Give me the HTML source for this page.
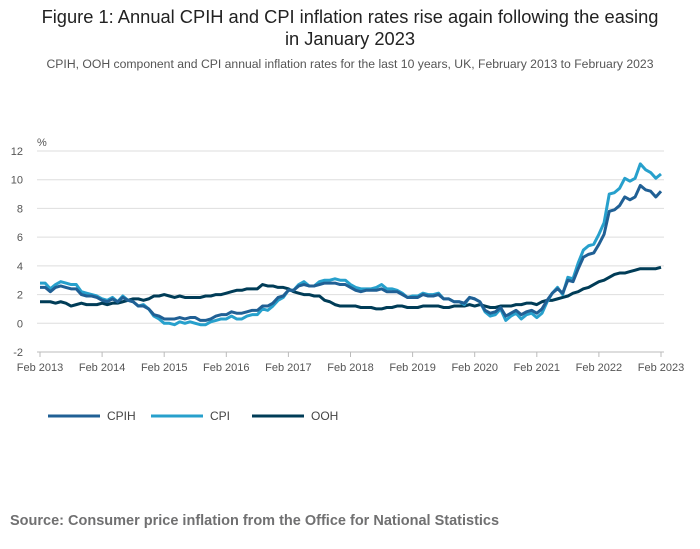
<!DOCTYPE html>
<html><head><meta charset="utf-8">
<style>
body{margin:0;background:#fff;font-family:"Liberation Sans",sans-serif;}
#wrap{position:relative;width:700px;height:549px;overflow:hidden;}
.title{position:absolute;left:0;width:700px;top:6px;text-align:center;font-size:18.3px;color:#222;line-height:22px;}
.sub{position:absolute;left:0;width:700px;top:57px;text-align:center;font-size:12.2px;color:#555;}
.src{position:absolute;left:10px;top:513px;font-size:14.5px;font-weight:bold;color:#707071;}
svg text{font-family:"Liberation Sans",sans-serif;}
</style></head><body>
<div id="wrap">
<div class="title">Figure 1: Annual CPIH and CPI inflation rates rise again following the easing<br>in January 2023</div>
<div class="sub">CPIH, OOH component and CPI annual inflation rates for the last 10 years, UK, February 2013 to February 2023</div>
<svg id="chart" width="700" height="549" style="position:absolute;left:0;top:0"></svg>
<div class="src">Source: Consumer price inflation from the Office for National Statistics</div>
</div>
<script>
const yTicks=[-2,0,2,4,6,8,10,12];
const xTickLabels=["Feb 2013","Feb 2014","Feb 2015","Feb 2016","Feb 2017","Feb 2018","Feb 2019","Feb 2020","Feb 2021","Feb 2022","Feb 2023"];
const seriesNames=["CPIH","CPI","OOH"];
const cpih=[2.5,2.5,2.2,2.5,2.6,2.5,2.4,2.4,2.0,1.9,1.9,
1.8,1.6,1.5,1.7,1.5,1.8,1.6,1.5,1.2,1.2,1.0,0.6,
0.5,0.3,0.3,0.3,0.4,0.3,0.4,0.4,0.2,0.2,0.3,0.5,
0.6,0.6,0.8,0.7,0.7,0.8,0.9,0.9,1.2,1.2,1.4,1.8,
1.9,2.3,2.3,2.6,2.7,2.6,2.6,2.7,2.8,2.8,2.8,2.7,
2.7,2.5,2.3,2.2,2.3,2.3,2.3,2.4,2.2,2.2,2.2,2.0,
1.8,1.8,1.8,2.0,1.9,1.9,2.0,1.7,1.7,1.5,1.5,1.4,
1.8,1.7,1.5,0.9,0.7,0.8,1.1,0.5,0.7,0.9,0.6,0.8,
0.9,0.7,1.0,1.6,2.1,2.4,2.1,3.0,2.9,3.8,4.6,4.8,
4.9,5.5,6.2,7.8,7.9,8.2,8.8,8.6,8.8,9.6,9.3,9.2,
8.8,9.2];
const cpi=[2.8,2.8,2.4,2.7,2.9,2.8,2.7,2.7,2.2,2.1,2.0,
1.9,1.7,1.6,1.8,1.5,1.9,1.6,1.5,1.2,1.3,1.0,0.5,
0.3,0.0,0.0,-0.1,0.1,0.0,0.1,0.0,-0.1,-0.1,0.1,0.2,
0.3,0.3,0.5,0.3,0.3,0.5,0.6,0.6,1.0,0.9,1.2,1.6,
1.8,2.3,2.3,2.7,2.9,2.6,2.6,2.9,3.0,3.0,3.1,3.0,
3.0,2.7,2.5,2.4,2.4,2.4,2.5,2.7,2.4,2.4,2.3,2.1,
1.8,1.9,1.9,2.1,2.0,2.0,2.1,1.7,1.7,1.5,1.5,1.3,
1.8,1.7,1.5,0.8,0.5,0.6,1.0,0.2,0.5,0.7,0.3,0.6,
0.7,0.4,0.7,1.5,2.1,2.5,2.0,3.2,3.1,4.2,5.1,5.4,
5.5,6.2,7.0,9.0,9.1,9.4,10.1,9.9,10.1,11.1,10.7,10.5,
10.1,10.4];
const ooh=[1.5,1.5,1.5,1.4,1.5,1.4,1.2,1.3,1.4,1.3,1.3,
1.3,1.4,1.3,1.4,1.4,1.5,1.6,1.7,1.7,1.6,1.7,1.9,
1.9,2.0,1.9,1.8,1.9,1.8,1.8,1.8,1.8,1.9,1.9,2.0,
2.0,2.1,2.2,2.3,2.3,2.4,2.4,2.4,2.7,2.6,2.6,2.5,
2.5,2.4,2.2,2.1,2.0,2.0,1.9,1.9,1.6,1.5,1.3,1.2,
1.2,1.2,1.2,1.1,1.1,1.1,1.0,1.0,1.1,1.1,1.2,1.2,
1.1,1.1,1.1,1.2,1.2,1.2,1.2,1.1,1.1,1.2,1.2,1.2,
1.3,1.2,1.3,1.2,1.1,1.1,1.2,1.2,1.2,1.3,1.3,1.4,
1.4,1.3,1.5,1.6,1.6,1.7,1.8,1.9,2.1,2.2,2.4,2.5,
2.7,2.9,3.0,3.2,3.4,3.5,3.5,3.6,3.7,3.8,3.8,3.8,
3.8,3.9];
const colors=["#206095","#27a0cc","#003c57"];
const NS="http://www.w3.org/2000/svg";
const svg=document.getElementById('chart');
const x0=40,x1=661,yTop=151,yBot=352,vMin=-2,vMax=12;
function xs(i){return x0+(x1-x0)*i/120;}
function ys(v){return yBot-(v-vMin)/(vMax-vMin)*(yBot-yTop);}
function mk(tag,attrs){const e=document.createElementNS(NS,tag);for(const k in attrs)e.setAttribute(k,attrs[k]);svg.appendChild(e);return e;}
yTicks.forEach(v=>{
  const g=mk('line',{x1:37,x2:664,y1:ys(v),y2:ys(v),stroke:v===-2?'#bbb':'#dedede','stroke-width':1});
  
  
  const t=mk('text',{x:23,y:ys(v)+4,'text-anchor':'end','font-size':11,fill:'#555'});
  t.textContent=v;
  
  
});
const pct=mk('text',{x:37,y:146,'font-size':11,fill:'#555'});pct.textContent='%';


xTickLabels.forEach((l,k)=>{
  const x=xs(k*12);
  const tk=mk('line',{x1:x,x2:x,y1:yBot,y2:yBot+5,stroke:'#bbb'});
  
  
  const t=mk('text',{x:x,y:371,'text-anchor':'middle','font-size':11,fill:'#555'});
  t.textContent=l;
  
  
});
[cpih,cpi,ooh].map((d,s)=>[d,s]).reverse().forEach(([d,s])=>{
  const p=mk('polyline',{points:d.map((v,i)=>xs(i)+','+ys(v)).join(' '),fill:'none',stroke:colors[s],'stroke-width':3,'stroke-linejoin':'round'});
  
  
});
const legX=[48,151,252];
seriesNames.forEach((n,s)=>{
  const l=mk('line',{x1:legX[s],x2:legX[s]+52,y1:416,y2:416,stroke:colors[s],'stroke-width':3});
  
  
  const t=mk('text',{x:legX[s]+59,y:420,'font-size':12,fill:'#444'});
  t.textContent=n;
  
  
});
</script>
</body></html>
